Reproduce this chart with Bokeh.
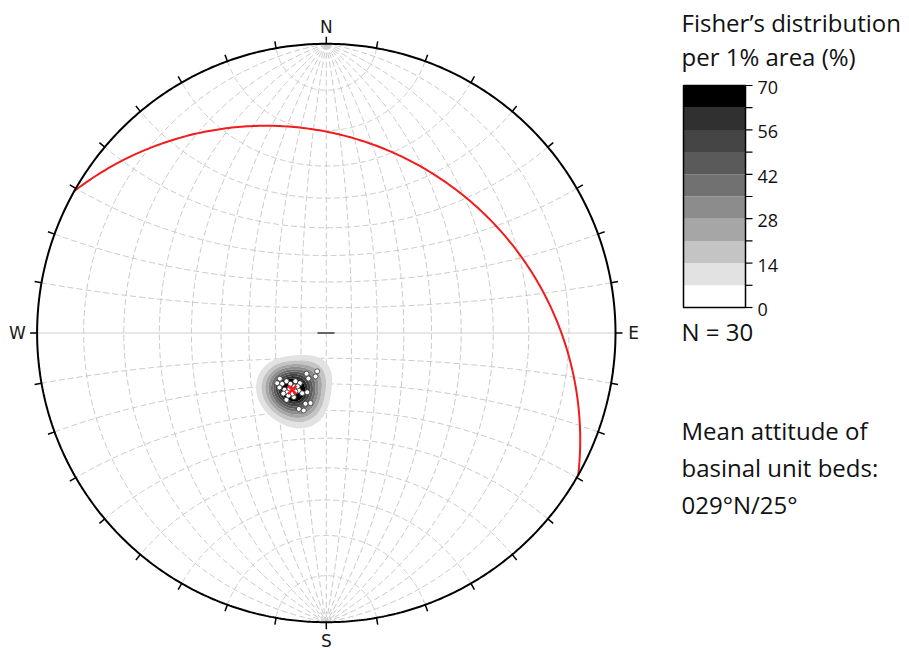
import numpy as np
from bokeh.plotting import figure
from bokeh.models import Range1d
from bokeh.embed import file_html
from bokeh.resources import INLINE
from bokeh.core.properties import value

# ---------------- data ----------------
pole_trend = [225.5, 224.4, 221.0, 219.5, 215.2, 212.6, 207.8, 216.3, 213.4, 205.6,
              201.8, 197.9, 206.9, 210.8, 205.9, 193.9, 193.4, 196.4, 192.7, 199.9,
              196.2, 213.5, 210.7, 209.2, 208.3, 211.2, 220.7, 207.8, 215.3, 201.4]
pole_plunge = [64.6, 62.7, 63.8, 65.6, 65.7, 67.6, 67.8, 62.6, 62.4, 65.1,
               64.7, 65.7, 62.1, 59.9, 72.2, 72.4, 74.5, 61.4, 62.1, 58.8,
               58.8, 64.1, 65.7, 63.0, 66.3, 61.6, 62.1, 64.2, 61.2, 70.8]
mean_pole_trend = 211.0
mean_pole_plunge = 64.2
plane_dipdir = 29.4
plane_dip = 23.0
fisher_kappa = 125.0
density_levels = [0, 7, 14, 21, 28, 35, 42, 49, 56, 63, 70]
density_colors = ["#ffffff", "#e2e2e2", "#c4c4c4", "#a6a6a6", "#8c8c8c",
                  "#717171", "#5a5a5a", "#454545", "#303030", "#000000"]
cbar_tick_values = [0, 14, 28, 42, 56, 70]
cbar_tick_labels = ["0", "14", "28", "42", "56", "70"]
cardinal_labels = ["N", "E", "S", "W"]
title_lines = ["Fisher\u2019s distribution", "per 1% area (%)"]
count_label = "N = 30"
note_lines = ["Mean attitude of", "basinal unit beds:", "029\u00b0N/25\u00b0"]
grid_step = 10

# ---------------- layout helpers ----------------
W, H = 909, 651
CX, CY, S = 325.8, 332.5, 289.2


def fx(xp):
    return (xp - CX) / S


def fy(yp):
    return (CY - yp) / S


def proj(e, n, d):
    return e / (1.0 + d), n / (1.0 + d)


def vec(trend, plunge):
    t, p = np.radians(trend), np.radians(plunge)
    return np.cos(p) * np.sin(t), np.cos(p) * np.cos(t), np.sin(p)


p = figure(width=W, height=H, output_backend="svg", toolbar_location=None,
           x_range=Range1d(-CX / S, (W - CX) / S),
           y_range=Range1d(-(H - CY) / S, CY / S),
           min_border=0, outline_line_color=None)
p.axis.visible = False
p.grid.visible = False
p.background_fill_color = "white"

# ---------------- Wulff net grid ----------------
t = np.linspace(0, np.pi, 241)
gx, gy = [], []
for dip in range(grid_step, 180, grid_step):
    dr = np.radians(dip)
    e = np.sin(t) * np.cos(dr)
    n = np.cos(t)
    d = np.sin(t) * np.sin(dr)
    X, Y = proj(e, n, d)
    gx.append(X)
    gy.append(Y)
for a in range(grid_step, 180, grid_step):
    if a == 90:
        continue
    ar = np.radians(a)
    e = np.sin(ar) * np.cos(t)
    n = np.full_like(t, np.cos(ar))
    d = np.sin(ar) * np.sin(t)
    X, Y = proj(e, n, d)
    gx.append(X)
    gy.append(Y)
p.multi_line(gx, gy, line_color="#c9c9c9", line_width=1, line_dash="6 3")
p.line([-1, 1], [0, 0], line_color="#d0d0d0", line_width=1.2)

# ---------------- density (Fisher smoothing) ----------------
xs = np.linspace(fx(235), fx(350), 200)
ys = np.linspace(fy(430), fy(345), 160)
XX, YY = np.meshgrid(xs, ys)
r2 = XX ** 2 + YY ** 2
ge = 2 * XX / (1 + r2)
gn = 2 * YY / (1 + r2)
gd = (1 - r2) / (1 + r2)
pe, pn, pd = vec(np.array(pole_trend), np.array(pole_plunge))
dens = np.zeros_like(XX)
for i in range(len(pole_trend)):
    c = np.abs(ge * pe[i] + gn * pn[i] + gd * pd[i])
    dens += np.exp(fisher_kappa * (c - 1.0))
dens *= fisher_kappa / len(pole_trend)
top = max(dens.max(), density_levels[-1]) + 1.0
clev = list(density_levels[1:-1]) + [top]
p.contour(xs, ys, dens, clev, fill_color=density_colors[1:], line_color=None)

# ---------------- poles ----------------
px_, py_ = proj(pe, pn, pd)
p.scatter(px_, py_, size=5, marker="circle", fill_color="white",
          line_color="#333333", line_width=0.8)
me, mn, md = vec(mean_pole_trend, mean_pole_plunge)
mx, my = proj(me, mn, md)
p.scatter([mx], [my], marker="x", size=12, line_color="#ff1a1a", line_width=2.5)

# ---------------- mean plane great circle ----------------
sr = np.radians(plane_dipdir - 90)
ddr, dpr = np.radians(plane_dipdir), np.radians(plane_dip)
se, sn = np.sin(sr), np.cos(sr)
de, dn, dd = np.cos(dpr) * np.sin(ddr), np.cos(dpr) * np.cos(ddr), np.sin(dpr)
e = np.cos(t) * se + np.sin(t) * de
n = np.cos(t) * sn + np.sin(t) * dn
d = np.sin(t) * dd
X, Y = proj(e, n, d)
p.line(X, Y, line_color="#f21c1c", line_width=2)

# ---------------- primitive & ticks ----------------
ang = np.linspace(0, 2 * np.pi, 721)
p.line(np.cos(ang), np.sin(ang), line_color="black", line_width=2)
az = np.radians(np.arange(0, 360, grid_step))
tl = 7 / S
p.segment(np.sin(az), np.cos(az), (1 + tl) * np.sin(az), (1 + tl) * np.cos(az),
          line_color="black", line_width=1.5)
p.segment([fx(317)], [0], [fx(334)], [0], line_color="#666666", line_width=2)

card_az = np.radians([0, 90, 180, 270])
card_r = [1 + 16.8 / S, 1 + 18 / S, 1 + 19 / S, 1 + 19.6 / S]
p.text(np.array(card_r) * np.sin(card_az), np.array(card_r) * np.cos(card_az),
       text=cardinal_labels, text_align="center", text_baseline="middle",
       text_font=value("DejaVu Sans"), text_font_size=value("17px"),
       text_color="#1a1a1a")

# ---------------- colour bar ----------------
cb_x0, cb_x1, cb_ybot, cb_ytop = 683, 745, 307, 85
vmax = density_levels[-1]


def cby(v):
    return fy(cb_ybot - v * (cb_ybot - cb_ytop) / vmax)


p.quad(left=fx(cb_x0), right=fx(cb_x1),
       bottom=[cby(v) for v in density_levels[:-1]],
       top=[cby(v) for v in density_levels[1:]],
       fill_color=density_colors, line_color=None)
p.quad(left=[fx(cb_x0)], right=[fx(cb_x1)], bottom=[cby(0)], top=[cby(vmax)],
       fill_color=None, line_color="black", line_width=1.5)
p.segment([fx(cb_x1)] * len(density_levels), [cby(v) for v in density_levels],
          [fx(cb_x1 + 7)] * len(density_levels), [cby(v) for v in density_levels],
          line_color="black", line_width=1.2)
p.text([fx(757)] * len(cbar_tick_values), [cby(v) - 2 / S for v in cbar_tick_values],
       text=cbar_tick_labels, text_align="left", text_baseline="middle",
       text_font=value("Open Sans"), text_font_size=value("18px"),
       text_color="#111111")

# ---------------- texts ----------------
font = value("Open Sans")
fsize = value("24px")
p.text([fx(681), fx(681)], [fy(22), fy(56)], text=title_lines,
       text_align="left", text_baseline="alphabetic",
       text_font=font, text_font_size=fsize, text_color="#111111")
p.text([fx(681)], [fy(331)], text=[count_label],
       text_align="left", text_baseline="alphabetic",
       text_font=font, text_font_size=fsize, text_color="#111111")
p.text([fx(681)] * 3, [fy(430), fy(467), fy(504)], text=note_lines,
       text_align="left", text_baseline="alphabetic",
       text_font=font, text_font_size=fsize, text_color="#111111")

open("out.html", "w").write(file_html(p, INLINE))
